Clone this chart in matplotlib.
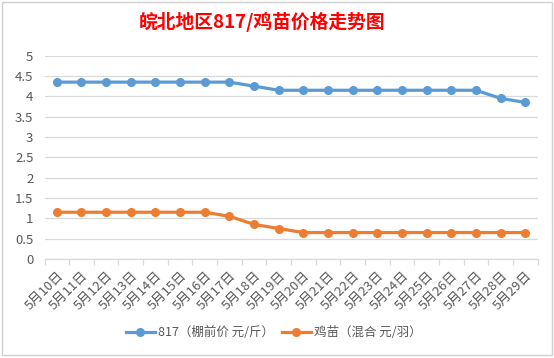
import matplotlib
matplotlib.use("Agg")
import matplotlib.pyplot as plt
from matplotlib.patches import Rectangle

plt.rcParams["font.family"] = ["Noto Sans CJK SC", "DejaVu Sans"]

# 数据
dias = [f"5月{d}日" for d in range(10, 30)]
preco_817 = [4.35, 4.35, 4.35, 4.35, 4.35, 4.35, 4.35, 4.35, 4.25, 4.15,
             4.15, 4.15, 4.15, 4.15, 4.15, 4.15, 4.15, 4.15, 3.95, 3.85]
preco_frango = [1.15, 1.15, 1.15, 1.15, 1.15, 1.15, 1.15, 1.05, 0.85, 0.75,
                0.65, 0.65, 0.65, 0.65, 0.65, 0.65, 0.65, 0.65, 0.65, 0.65]
y_ticks = [0, 0.5, 1, 1.5, 2, 2.5, 3, 3.5, 4, 4.5, 5]
y_labels = ["0", "0.5", "1", "1.5", "2", "2.5", "3", "3.5", "4", "4.5", "5"]

W, H = 554, 358
fig = plt.figure(figsize=(W / 100, H / 100), dpi=100)

# borda do gráfico
fig.patches.append(Rectangle((2 / W, 1 - 355 / H), 550 / W, 353 / H,
                             transform=fig.transFigure, fill=False,
                             edgecolor="#d0d0d0", lw=1))

ax = fig.add_axes([44.5 / W, 1 - 259 / H, (537.7 - 44.5) / W, (259 - 55.7) / H])
x = list(range(len(dias)))
ax.plot(x, preco_817, color="#5B9BD5", lw=2.3, marker="o", ms=5.5,
        label="817（棚前价 元/斤）")
ax.plot(x, preco_frango, color="#ED7D31", lw=2.3, marker="o", ms=5.5,
        label="鸡苗（混合 元/羽）")

ax.set_xlim(-0.5, len(dias) - 0.5)
ax.set_ylim(0, 5)
ax.set_yticks(y_ticks)
ax.set_yticklabels(y_labels)
ax.grid(axis="y", color="#d9d9d9", lw=0.9)
ax.set_axisbelow(True)
for s in ["top", "right", "left"]:
    ax.spines[s].set_visible(False)
ax.spines["bottom"].set_color("#d9d9d9")
ax.spines["bottom"].set_linewidth(0.9)

ax.tick_params(axis="y", length=0, pad=8, labelsize=9.5, labelcolor="#595959")
ax.set_xticks(x)
ax.set_xticklabels(dias, rotation=45, ha="right", rotation_mode="anchor")
ax.set_xticks([i - 0.5 for i in range(len(dias) + 1)], minor=True)
ax.tick_params(axis="x", which="major", length=0, pad=7, labelsize=9.5,
               labelcolor="#595959")
ax.tick_params(axis="x", which="minor", length=4, color="#d9d9d9", width=0.9)

fig.text(262 / W, 1 - 22 / H, "皖北地区817/鸡苗价格走势图", ha="center", va="center",
         color="#ff0000", fontsize=13.5, fontweight="bold")

fig.legend(loc="center", bbox_to_anchor=(274 / W, 1 - 333 / H), ncol=2,
           frameon=False, fontsize=9, labelcolor="#595959",
           handlelength=2.3, columnspacing=0.6, handletextpad=0.3)

fig.savefig("out.png", dpi=100)
